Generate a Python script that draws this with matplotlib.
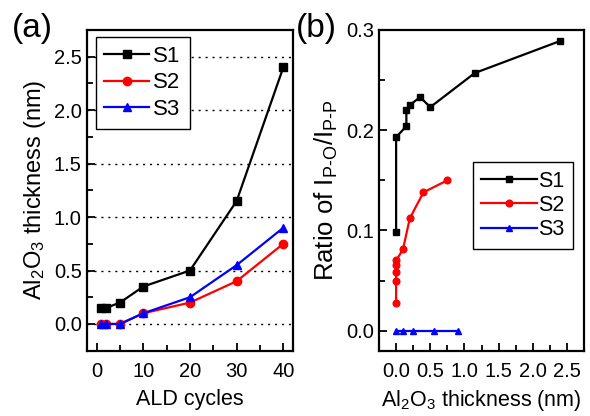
import matplotlib
matplotlib.use("Agg")
import matplotlib.pyplot as plt
from matplotlib.ticker import MultipleLocator

plt.rcParams['font.family'] = ['Liberation Sans', 'DejaVu Sans']
plt.rcParams['mathtext.fontset'] = 'custom'
plt.rcParams['mathtext.rm'] = 'Liberation Sans'
plt.rcParams['mathtext.it'] = 'Liberation Sans'

# Panel (a)
cycles = [1, 2, 5, 10, 20, 30, 40]
a_s1 = [0.15, 0.15, 0.2, 0.35, 0.5, 1.15, 2.4]
a_s2 = [0.0, 0.0, 0.0, 0.1, 0.2, 0.4, 0.75]
a_s3 = [0.0, 0.0, 0.0, 0.1, 0.25, 0.55, 0.9]

# Panel (b)
b_s1_x = [0.0, 0.0, 0.15, 0.15, 0.2, 0.35, 0.5, 1.15, 2.4]
b_s1_y = [0.098, 0.193, 0.204, 0.220, 0.225, 0.233, 0.223, 0.257, 0.289]
b_s2_x = [0.0, 0.0, 0.0, 0.0, 0.0, 0.1, 0.2, 0.4, 0.75]
b_s2_y = [0.028, 0.05, 0.059, 0.065, 0.07, 0.081, 0.112, 0.138, 0.15]
b_s3_x = [0.0, 0.1, 0.25, 0.55, 0.9]
b_s3_y = [0.0, 0.0, 0.0, 0.0, 0.0]

labels = ['S1', 'S2', 'S3']
colors = ['black', 'red', 'blue']
markers = ['s', 'o', '^']

fig = plt.figure(figsize=(5.9, 4.16), dpi=100)
ax1 = fig.add_axes([0.148, 0.157, 0.348, 0.771])
ax2 = fig.add_axes([0.643, 0.157, 0.347, 0.771])

for ys, lab, c, m in zip([a_s1, a_s2, a_s3], labels, colors, markers):
    ax1.plot(cycles, ys, color=c, marker=m, lw=1.6, ms=6, label=lab)

for xs, ys, lab, c, m in zip([b_s1_x, b_s2_x, b_s3_x], [b_s1_y, b_s2_y, b_s3_y],
                             labels, colors, markers):
    ax2.plot(xs, ys, color=c, marker=m, lw=1.6, ms=4.8, label=lab)

ax1.set_xlim(-2, 42)
ax1.set_ylim(-0.25, 2.75)
ax1.xaxis.set_major_locator(MultipleLocator(10))
ax1.xaxis.set_minor_locator(MultipleLocator(5))
ax1.yaxis.set_major_locator(MultipleLocator(0.5))
ax1.yaxis.set_minor_locator(MultipleLocator(0.25))
ax1.yaxis.grid(True, which='major', color='black', linestyle=(0, (1.5, 3.5)), lw=1.0)
ax1.set_axisbelow(True)
ax1.set_xlabel('ALD cycles', fontsize=15.5, labelpad=6)
ax1.set_ylabel(r'Al$_2$O$_3$ thickness (nm)', fontsize=17, labelpad=4)

ax2.set_xlim(-0.245, 2.75)
ax2.set_ylim(-0.02, 0.3)
ax2.xaxis.set_major_locator(MultipleLocator(0.5))
ax2.xaxis.set_minor_locator(MultipleLocator(0.25))
ax2.yaxis.set_major_locator(MultipleLocator(0.1))
ax2.yaxis.set_minor_locator(MultipleLocator(0.05))
ax2.set_xlabel(r'Al$_2$O$_3$ thickness (nm)', fontsize=15.5, labelpad=5)
ax2.set_ylabel(r'Ratio of I$_{\mathrm{P\text{-}O}}$/I$_{\mathrm{P\text{-}P}}$', fontsize=18.5, labelpad=4)

for ax in (ax1, ax2):
    for s in ax.spines.values():
        s.set_linewidth(1.6)
    ax.tick_params(which='both', direction='in', width=1.3, labelsize=14.5)
    ax.tick_params(which='major', length=6)
    ax.tick_params(which='minor', length=4)
    ax.tick_params(axis='x', which='major', pad=8)
    ax.tick_params(axis='y', which='major', pad=4)

leg1 = ax1.legend(loc='center', fontsize=16, fancybox=False, edgecolor='black',
                  framealpha=1, handlelength=2.0, borderpad=0.4, labelspacing=0.25,
                  handletextpad=0.2, bbox_to_anchor=(0.269, 0.835))
leg1.get_frame().set_linewidth(1.0)
leg2 = ax2.legend(loc='center', fontsize=15.5, fancybox=False, edgecolor='black',
                  framealpha=1, handlelength=2.6, borderpad=0.4, labelspacing=0.15,
                  handletextpad=0.05, bbox_to_anchor=(0.702, 0.453))
leg2.get_frame().set_linewidth(1.0)

fig.text(0.020, 0.91, '(a)', fontsize=24)
fig.text(0.501, 0.91, '(b)', fontsize=24)

fig.savefig('out.png', dpi=100)
